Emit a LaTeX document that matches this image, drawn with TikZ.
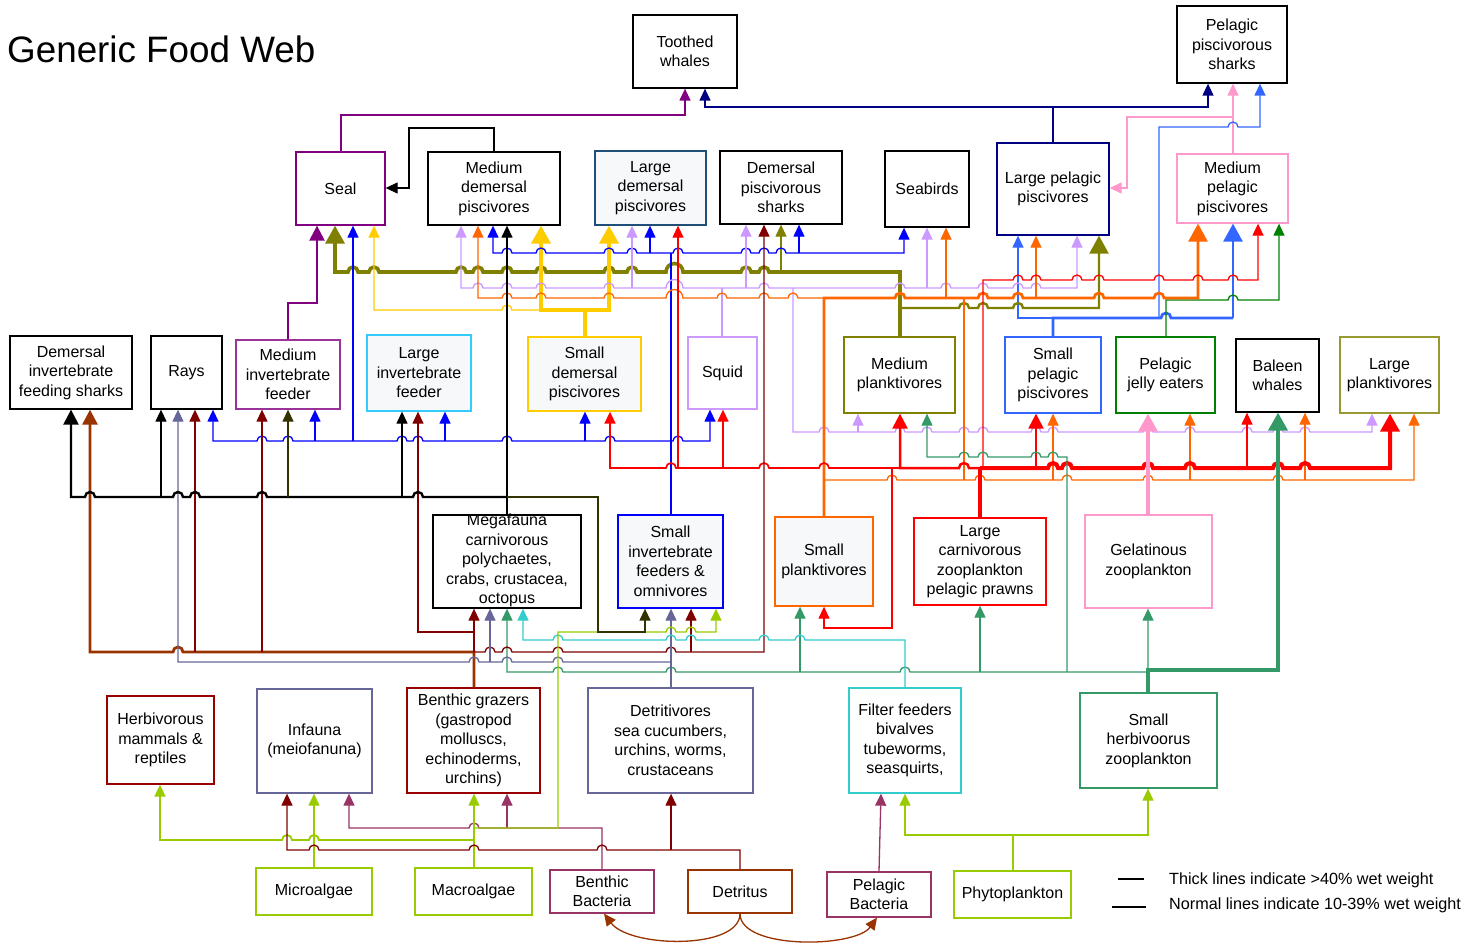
\documentclass[tikz,border=0pt]{standalone}
\usepackage{fontspec}
\setmainfont{Liberation Sans}
\usetikzlibrary{arrows.meta}
\definecolor{cPurple}{HTML}{800080}
\definecolor{cMIF}{HTML}{993399}
\definecolor{cOlive}{HTML}{808000}
\definecolor{cLP}{HTML}{999933}
\definecolor{cGold}{HTML}{FFCC00}
\definecolor{cBlue}{HTML}{0000FF}
\definecolor{cLav}{HTML}{CC99FF}
\definecolor{cOrange}{HTML}{FF6600}
\definecolor{cRed}{HTML}{FF0000}
\definecolor{cDred}{HTML}{800000}
\definecolor{cBGred}{HTML}{990000}
\definecolor{cBrown}{HTML}{993300}
\definecolor{cSlate}{HTML}{666699}
\definecolor{cSgreen}{HTML}{339966}
\definecolor{cCyan}{HTML}{33CCCC}
\definecolor{cLIF}{HTML}{33CCFF}
\definecolor{cLime}{HTML}{99CC00}
\definecolor{cMag}{HTML}{993366}
\definecolor{cNavy}{HTML}{000080}
\definecolor{cPink}{HTML}{FF99CC}
\definecolor{cBlueB}{HTML}{3366FF}
\definecolor{cGreen}{HTML}{008000}
\definecolor{cDolive}{HTML}{333300}
\definecolor{cLDP}{HTML}{1F4E79}
\definecolor{cFill}{HTML}{F7F8F9}
\newcommand\fwjmp[2]{\foreach \hx in {#2}{--({\hx-5},#1) arc[start angle=180,end angle=0,radius=5pt]}}
\newcommand\fwjmpw[3]{--({#2-#3},#1) arc[start angle=180,end angle=0,radius=#3pt]}
\tikzset{
  cn/.style={line width=1.3pt},
  ae/.style={-{Triangle[width=11pt,length=12pt]}},
  as/.style={{Triangle[width=11pt,length=12pt]}-},
  ab/.style={{Triangle[width=11pt,length=12pt]}-{Triangle[width=11pt,length=12pt]}},
  aeM/.style={-{Triangle[width=15pt,length=15pt]}},
  asM/.style={{Triangle[width=15pt,length=15pt]}-},
  aeT/.style={-{Triangle[width=19pt,length=18pt]}},
  asT/.style={{Triangle[width=19pt,length=18pt]}-},
  abT/.style={{Triangle[width=19pt,length=18pt]}-{Triangle[width=19pt,length=18pt]}},
  fwbox/.style={draw, line width=1.3pt, fill=white, align=center, inner sep=0pt,
    font=\fontsize{16}{19.5}\selectfont},
  fwtext/.style={align=center, inner sep=0pt, font=\fontsize{16}{19.5}\selectfont},
}
\begin{document}
\begin{tikzpicture}[x=1pt,y=1pt]
\path[use as bounding box, fill=white] (0,0) rectangle (1471,-944);
\node[anchor=base west, inner sep=0pt, font=\fontsize{36.8}{40}\selectfont] (title) at (7,-63) {Generic Food Web};
% ---------------- nodes
\node[fwbox,draw=black,minimum width=104pt,minimum height=73pt] (tw) at (685,-51.5) {Toothed\\whales};
\node[fwbox,draw=black,minimum width=110pt,minimum height=77pt] (pps) at (1232,-44.5) {Pelagic\\piscivorous\\sharks};
\node[fwbox,draw=cPurple,minimum width=89pt,minimum height=73pt] (seal) at (340.5,-188.5) {Seal};
\node[fwbox,draw=black,minimum width=132pt,minimum height=73pt] (mdp) at (494,-188.5) {Medium\\demersal\\piscivores};
\node[fwbox,draw=cLDP,fill=cFill,minimum width=111pt,minimum height=74pt] (ldp) at (650.5,-188) {Large\\demersal\\piscivores};
\node[fwbox,draw=black,minimum width=122pt,minimum height=73pt] (dps) at (781,-187.5) {Demersal\\piscivorous\\sharks};
\node[fwbox,draw=black,minimum width=84pt,minimum height=76pt] (sb) at (927,-189) {Seabirds};
\node[fwbox,draw=cNavy,minimum width=112pt,minimum height=92pt] (lpp) at (1053,-189) {Large pelagic\\piscivores};
\node[fwbox,draw=cPink,minimum width=111pt,minimum height=69pt] (mpp) at (1232.5,-188.5) {Medium\\pelagic\\piscivores};
\node[fwbox,draw=black,minimum width=122pt,minimum height=73pt] (difs) at (71,-372.5) {Demersal\\invertebrate\\feeding sharks};
\node[fwbox,draw=black,minimum width=71pt,minimum height=73pt] (rays) at (186.5,-372.5) {Rays};
\node[fwbox,draw=cMIF,minimum width=104pt,minimum height=69pt] (mif) at (288,-374.5) {Medium\\invertebrate\\feeder};
\node[fwbox,draw=cLIF,fill=cFill,minimum width=104pt,minimum height=76pt] (lif) at (419,-373) {Large\\invertebrate\\feeder};
\node[fwbox,draw=cGold,fill=cFill,minimum width=113pt,minimum height=74pt] (sdp) at (584.5,-374) {Small\\demersal\\piscivores};
\node[fwbox,draw=cLav,minimum width=69pt,minimum height=72pt] (squid) at (722.5,-373) {Squid};
\node[fwbox,draw=cOlive,minimum width=111pt,minimum height=76pt] (mp) at (899.5,-375) {Medium\\planktivores};
\node[fwbox,draw=cBlueB,minimum width=96pt,minimum height=76pt] (spp) at (1053,-375) {Small\\pelagic\\piscivores};
\node[fwbox,draw=cGreen,minimum width=99pt,minimum height=76pt] (pje) at (1165.5,-375) {Pelagic\\jelly eaters};
\node[fwbox,draw=black,minimum width=83pt,minimum height=73pt] (bw) at (1277.5,-375.5) {Baleen\\whales};
\node[fwbox,draw=cLP,minimum width=99pt,minimum height=76pt] (lp) at (1389.5,-375) {Large\\planktivores};
\node[fwbox,draw=black,minimum width=148pt,minimum height=93pt] (mega) at (507,-561.5) {};
\node[fwtext] (megat) at (507,-560.5) {Megafauna\\carnivorous\\polychaetes,\\crabs, crustacea,\\octopus};
\node[fwbox,draw=cBlue,fill=cFill,minimum width=105pt,minimum height=93pt] (sif) at (670.5,-561.5) {Small\\invertebrate\\feeders \&\\omnivores};
\node[fwbox,draw=cOrange,fill=cFill,minimum width=98pt,minimum height=89pt] (sp) at (824,-561.5) {Small\\planktivores};
\node[fwbox,draw=cRed,minimum width=132pt,minimum height=87pt] (lcz) at (980,-561.5) {Large\\carnivorous\\zooplankton\\pelagic prawns};
\node[fwbox,draw=cPink,minimum width=127pt,minimum height=93pt] (gz) at (1148.5,-561.5) {Gelatinous\\zooplankton};
\node[fwbox,draw=cBGred,minimum width=107pt,minimum height=88pt] (hmr) at (160.5,-740) {Herbivorous\\mammals \&\\reptiles};
\node[fwbox,draw=cSlate,minimum width=115pt,minimum height=104pt] (inf) at (314.5,-741) {Infauna\\(meiofanuna)};
\node[fwbox,draw=cBGred,minimum width=133pt,minimum height=105pt] (bg) at (473.5,-740.5) {Benthic grazers\\(gastropod\\molluscs,\\echinoderms,\\urchins)};
\node[fwbox,draw=cSlate,minimum width=165pt,minimum height=105pt] (det) at (670.5,-740.5) {Detritivores\\sea cucumbers,\\urchins, worms,\\crustaceans};
\node[fwbox,draw=cCyan,minimum width=112pt,minimum height=105pt] (ff) at (905,-740.5) {Filter feeders\\bivalves\\tubeworms,\\seasquirts,};
\node[fwbox,draw=cSgreen,minimum width=137pt,minimum height=95pt] (shz) at (1148.5,-740.5) {Small\\herbivoorus\\zooplankton};
\node[fwbox,draw=cLime,minimum width=116pt,minimum height=47pt] (micro) at (314,-891.5) {Microalgae};
\node[fwbox,draw=cLime,minimum width=117pt,minimum height=47pt] (macro) at (473.5,-891.5) {Macroalgae};
\node[fwbox,draw=cMag,minimum width=104pt,minimum height=43pt] (bb) at (602,-891.5) {Benthic\\Bacteria};
\node[fwbox,draw=cBrown,minimum width=104pt,minimum height=43pt] (detr) at (740,-891.5) {Detritus};
\node[fwbox,draw=cMag,minimum width=104pt,minimum height=45pt] (pb) at (879,-894.5) {Pelagic\\Bacteria};
\node[fwbox,draw=cLime,minimum width=117pt,minimum height=47pt] (phyto) at (1012.5,-894.5) {Phytoplankton};
% ---------------- top connectors
\draw[cn,cPurple,ae] (seal.north -| 341,0) -- (341,-115) -| (tw.south -| 685,0);
\draw[cn,cNavy,ae] (lpp.north) -- (1053,-107) -| (tw.south -| 705,0);
\draw[cn,cNavy,ae] (1053,-107) -| (pps.south -| 1208,0);
\draw[cn,cPink,ae] (mpp.north -| 1233,0) -- (pps.south -| 1233,0);
\draw[cn,cPink,ae] (1233,-117) -| (1127,-188) -- (lpp.east |- 0,-188);
\draw[cn,black,ae] (mdp.north) |- (409,-128) -- (409,-188) -- (seal.east |- 0,-188);
\draw[line width=2.4pt,cPurple,aeM] (mif.north -| 288,0) |- (317,-303) -- (seal.south -| 317,0);
% small pelagic piscivores
\draw[line width=2.8pt,cBlueB] (spp.north -| 1053,0) -- (1053,-318) \fwjmp{-318}{1166} -- (1233,-318);
\draw[line width=2.8pt,cBlueB,aeT] (1233,-318) -- (mpp.south -| 1233,0);
\draw[cn,cBlueB,ae] (1053,-318) -- (1018,-318) -- (lpp.south -| 1018,0);
\draw[cn,cBlueB,ae] (1159,-318) -- (1159,-127) \fwjmp{-127}{1233} -- (1260,-127) -- (pps.south -| 1260,0);
% pelagic jelly eaters
\draw[cn,cGreen,ae] (pje.north -| 1166,0) -- (1166,-300) \fwjmp{-300}{1233} -- (1279,-300) -- (mpp.south -| 1279,0);
% medium planktivores (olive)
\draw[line width=3.6pt,cOlive,asT] (seal.south -| 335,0) -- (335,-272) \fwjmp{-272}{353,374,461,478,507,541,609,632} \fwjmpw{-272}{674.5}{8.5} \fwjmp{-272}{746,764} -- (900,-272) -- (mp.north -| 900,0);
\draw[cn,cOlive,ae] (781,-272) -- (dps.south -| 781,0);
\draw[line width=2.4pt,cOlive,aeT] (900,-308) \fwjmp{-308}{964,983,1018} -- (1099,-308) -- (lpp.south -| 1099,0);
% small demersal piscivores (gold)
\draw[line width=4pt,cGold] (sdp.north -| 585,0) -- (585,-310);
\draw[line width=4pt,cGold,abT] (mdp.south -| 541,0) -- (541,-310) -- (609,-310) -- (ldp.south -| 609,0);
\draw[cn,cGold,as] (seal.south -| 374,0) -- (374,-310) \fwjmp{-310}{507} -- (541,-310);
% small invertebrate feeders (blue)
\draw[cn,cBlue,ab] (mdp.south -| 493,0) -- (493,-253) \fwjmp{-253}{507,541,609,632,678,746,764,781} -- (904,-253) -- (sb.south -| 904,0);
\draw[cn,cBlue,ae] (650,-253) -- (ldp.south -| 650,0);
\draw[cn,cBlue,ae] (799,-253) -- (dps.south -| 799,0);
\draw[cn,cBlue] (671,-253) -- (sif.north -| 671,0);
\draw[cn,cBlue,ab] (rays.south -| 213,0) -- (213,-441) \fwjmp{-441}{262,288,402,418,507,610,678} -- (710,-441) -- (squid.south -| 710,0);
\draw[cn,cBlue,ae] (315,-441) -- (mif.south -| 315,0);
\draw[cn,cBlue,ae] (353,-441) -- (seal.south -| 353,0);
\draw[cn,cBlue,ae] (445,-441) -- (lif.south -| 445,0);
\draw[cn,cBlue,ae] (585,-441) -- (sdp.south -| 585,0);
% squid (lavender)
\draw[cn,cLav,ab] (mdp.south -| 461,0) -- (461,-288) \fwjmp{-288}{478,507,541,609} \fwjmpw{-288}{674.5}{8.5} \fwjmp{-288}{764,900,946,983,1018,1036} -- (1077,-288) -- (lpp.south -| 1077,0);
\draw[cn,cLav,ae] (632,-288) -- (ldp.south -| 632,0);
\draw[cn,cLav,ae] (746,-288) -- (dps.south -| 746,0);
\draw[cn,cLav,ae] (927,-288) -- (sb.south -| 927,0);
\draw[cn,cLav] (722,-288) -- (squid.north -| 722,0);
\draw[cn,cLav,ae] (793,-288) -- (793,-432) \fwjmp{-432}{824,900,927,964,983,1036,1053,1148,1190,1247,1278,1305} -- (1372,-432) -- (lp.south -| 1372,0);
\draw[cn,cLav,ae] (858,-432) -- (mp.south -| 858,0);
% small planktivores (orange)
\draw[cn,cOrange,as] (mdp.south -| 478,0) -- (478,-298) \fwjmp{-298}{507,541,609} \fwjmpw{-298}{674.5}{8.5} \fwjmp{-298}{722,764,793} -- (824,-298);
\draw[line width=2.8pt,cOrange,aeT] (sp.north -| 824,0) -- (824,-298) \fwjmp{-298}{900,983,1018,1099,1159} -- (1198,-298) -- (mpp.south -| 1198,0);
\draw[cn,cOrange,ae] (946,-298) -- (sb.south -| 946,0);
\draw[cn,cOrange,ae] (1036,-298) -- (lpp.south -| 1036,0);
\draw[cn,cOrange] (964,-298) -- (964,-480);
\draw[cn,cOrange,ae] (824,-480) \fwjmp{-480}{892,980,1067,1148,1278} -- (1414,-480) -- (lp.south -| 1414,0);
\draw[cn,cOrange,ae] (1053,-480) -- (spp.south -| 1053,0);
\draw[cn,cOrange,ae] (1190,-480) -- (pje.south -| 1190,0);
\draw[cn,cOrange,ae] (1305,-480) -- (bw.south -| 1305,0);
% large carnivorous zooplankton (red)
\draw[line width=1.7pt,cRed,as] (sdp.south -| 610,0) -- (610,-468) \fwjmp{-468}{671,764,824} -- (900,-468);
\draw[line width=2.5pt,cRed,asM] (mp.south -| 900,0) -- (900,-468) \fwjmp{-468}{964} -- (980,-468);
\draw[line width=4pt,cRed,aeT] (980,-468) \fwjmp{-468}{1053,1067,1148,1190,1278,1305} -- (1390,-468) -- (lp.south -| 1390,0);
\draw[line width=4pt,cRed] (lcz.north -| 980,0) -- (980,-468);
\draw[cn,cRed,ae] (678,-468) -- (ldp.south -| 678,0);
\draw[cn,cRed,ae] (723,-468) -- (squid.south -| 723,0);
\draw[line width=2.4pt,cRed,aeM] (1036,-468) -- (spp.south -| 1036,0);
\draw[cn,cRed,ae] (1247,-468) -- (bw.south -| 1247,0);
\draw[cn,cRed,ae] (983,-468) -- (983,-280) \fwjmp{-280}{1018,1036,1077,1099,1159,1198,1233} -- (1258,-280) -- (mpp.south -| 1258,0);
\draw[cn,cRed,ae] (892,-468) |- (824,-628) -- (sp.south -| 824,0);
% small herbivorous zooplankton (sea green)
\draw[line width=4pt,cSgreen,aeT] (shz.north -| 1148,0) -- (1148,-670) -| (bw.south -| 1278,0);
\draw[cn,cSgreen,ab] (mega.south -| 507,0) -- (507,-672) \fwjmp{-672}{558,671,905} -- (1148,-672) -- (gz.south -| 1148,0);
\draw[cn,cSgreen,ae] (800,-672) -- (sp.south -| 800,0);
\draw[cn,cSgreen,ae] (980,-672) -- (lcz.south -| 980,0);
\draw[cn,cSgreen,as] (mp.south -| 927,0) -- (927,-457) \fwjmp{-457}{964,983,1036,1053} -- (1067,-457) -- (1067,-672);
% gelatinous zooplankton
\draw[line width=4pt,cPink,aeT] (gz.north -| 1148,0) -- (pje.south -| 1148,0);
% benthic grazers
\draw[line width=2.8pt,cBrown,asM] (difs.south -| 90,0) -- (90,-652) \fwjmp{-652}{178} -- (474,-652) -- (bg.north -| 474,0);
\draw[cn,cDred,ae] (195,-652) -- (rays.south -| 195,0);
\draw[cn,cDred,ae] (262,-652) -- (mif.south -| 262,0);
\draw[cn,cDred,ae] (474,-652) -- (mega.south -| 474,0);
\draw[cn,cDred,ae] (474,-632) -- (418,-632) -- (lif.south -| 418,0);
\draw[cn,cDred,ae] (474,-652) \fwjmp{-652}{490,507,558,671} -- (691,-652) -| (dps.south -| 764,0);
\draw[cn,cDred,ae] (691,-652) -- (sif.south -| 691,0);
% detritivores (slate)
\draw[cn,cSlate,as] (rays.south -| 178,0) -- (178,-662) \fwjmp{-662}{474,507,558} -- (671,-662);
\draw[cn,cSlate,ae] (det.north -| 671,0) -- (sif.south -| 671,0);
\draw[cn,cSlate,ae] (490,-662) -- (mega.south -| 490,0);
% filter feeders (cyan)
\draw[cn,cCyan,as] (mega.south -| 523,0) -- (523,-640) \fwjmp{-640}{558,671,691,764,800} -- (905,-640) -- (ff.north -| 905,0);
% megafauna (black)
\draw[line width=2.4pt,black,asM] (difs.south -| 71,0) -- (71,-497) \fwjmp{-497}{90,178,195,262,418} -- (507,-497);
\draw[cn,black,ae] (161,-497) -- (rays.south -| 161,0);
\draw[cn,black,ae] (402,-497) -- (lif.south -| 402,0);
\draw[line width=2.4pt,black] (mega.north -| 507,0) -- (507,-497);
\draw[cn,black,ae] (507,-497) -- (mdp.south -| 507,0);
% algae
\draw[cn,cLime,ae] (micro.north -| 314,0) -- (inf.south -| 314,0);
\draw[line width=1.8pt,cLime,as] (hmr.south -| 160,0) -- (160,-840) \fwjmp{-840}{287,314} -- (474,-840);
\draw[cn,cMag,as] (inf.south -| 349,0) -- (349,-828) \fwjmp{-828}{474} -- (602,-828) -- (bb.north -| 602,0);
\draw[cn,cMag,ae] (507,-828) -- (bg.south -| 507,0);
\draw[cn,cLime,ae] (macro.north -| 474,0) -- (bg.south -| 474,0);
\draw[cn,cLime,ae] (474,-828) -- (558,-828) -- (558,-632) \fwjmp{-632}{671,691} -- (716,-632) -- (sif.south -| 716,0);
\draw[cn,cDolive,ae] (288,-497) -- (mif.south -| 288,0);
\draw[cn,cDolive,ae] (507,-497) -- (598,-497) |- (645,-632) -- (sif.south -| 645,0);
% detritus
\draw[cn,cDred,as] (inf.south -| 287,0) -- (287,-850) \fwjmp{-850}{314,474,602} -- (740,-850) -- (detr.north -| 740,0);
\draw[cn,cDred,ae] (671,-850) -- (det.south -| 671,0);
\draw[cn,cMag,ae] (pb.north -| 879,0) -- (ff.south -| 881,0);
\draw[cn,cLime,ab] (ff.south -| 905,0) -- (905,-835) -- (1148,-835) -- (shz.south -| 1148,0);
\draw[cn,cLime] (phyto.north -| 1013,0) -- (1013,-835);
\draw[cn,cBrown,ae] (detr.south -| 740,0) .. controls (740,-950) and (630,-948) .. (bb.south -| 604,0);
\draw[cn,cBrown,ae] (detr.south -| 740,0) .. controls (740,-950) and (855,-948) .. (pb.south -| 877,0);
% legend
\coordinate (l1a) at (1118,-879); \coordinate (l1b) at (1144,-879);
\coordinate (l2a) at (1112,-907); \coordinate (l2b) at (1146,-907);
\draw[cn,black] (l1a) -- (l1b);
\draw[cn,black] (l2a) -- (l2b);
\node[fwtext,anchor=west,font=\fontsize{16.2}{19.5}\selectfont] (leg1) at (1169,-880) {Thick lines indicate >40\% wet weight};
\node[fwtext,anchor=west,font=\fontsize{16.2}{19.5}\selectfont] (leg2) at (1169,-905) {Normal lines indicate 10-39\% wet weight};
\end{tikzpicture}
\end{document}
